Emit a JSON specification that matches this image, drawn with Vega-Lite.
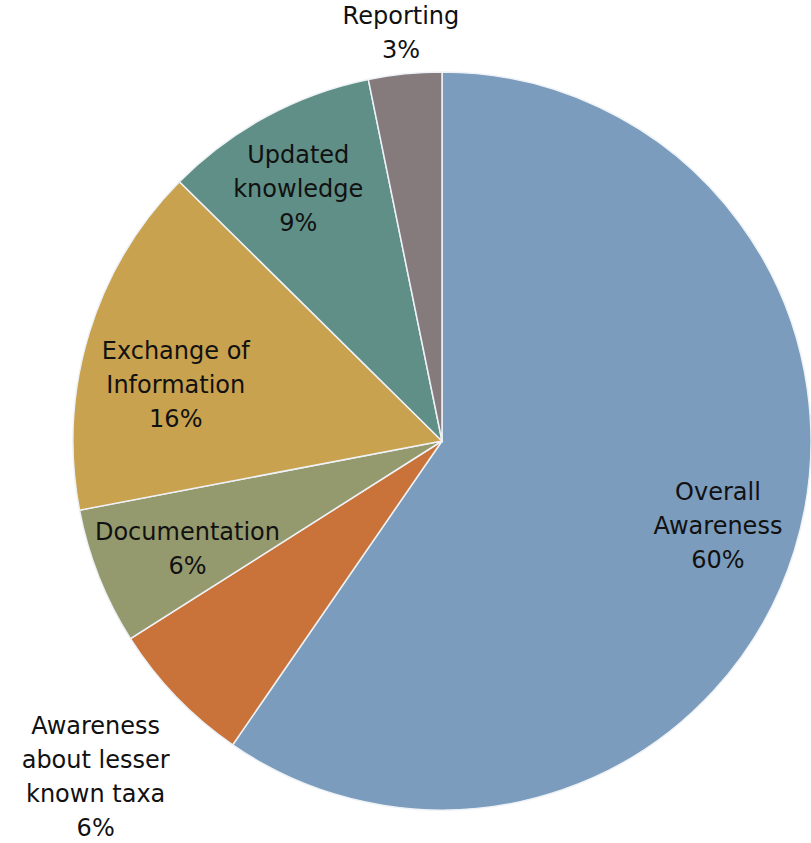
{
  "$schema": "https://vega.github.io/schema/vega-lite/v6.json",
  "width": 738,
  "height": 738,
  "autosize": {"type": "none"},
  "padding": {"left": 73, "top": 72, "right": 0, "bottom": 33},
  "background": "white",
  "config": {"view": {"stroke": null}, "text": {"font": "DejaVu Sans", "fontSize": 24, "lineBreak": "\n", "lineHeight": 34, "color": "#111111", "baseline": "middle"}},
  "data": {
    "values": [
      {"k": 1, "category": "Overall Awareness", "value": 59.6, "label": "Overall\nAwareness\n60%"},
      {"k": 2, "category": "Awareness about lesser known taxa", "value": 6.4, "label": "Awareness\nabout lesser\nknown taxa\n6%"},
      {"k": 3, "category": "Documentation", "value": 6.0, "label": "Documentation\n6%"},
      {"k": 4, "category": "Exchange of Information", "value": 15.4, "label": "Exchange of\nInformation\n16%"},
      {"k": 5, "category": "Updated knowledge", "value": 9.4, "label": "Updated\nknowledge\n9%"},
      {"k": 6, "category": "Reporting", "value": 3.2, "label": "Reporting\n3%"}
    ]
  },
  "encoding": {
    "theta": {"field": "value", "type": "quantitative", "stack": true},
    "order": {"field": "k", "type": "quantitative"}
  },
  "layer": [
    {
      "mark": {"type": "arc", "outerRadius": 369, "stroke": "#eef2f6", "strokeWidth": 1.5},
      "encoding": {
        "color": {
          "field": "category",
          "type": "nominal",
          "scale": {
            "domain": ["Overall Awareness", "Awareness about lesser known taxa", "Documentation", "Exchange of Information", "Updated knowledge", "Reporting"],
            "range": ["#7b9cbc", "#c9733a", "#959a6e", "#c8a24e", "#5f8f86", "#857b7d"]
          },
          "legend": null
        }
      }
    },
    {
      "mark": {"type": "text", "radius": 289, "dy": -34},
      "encoding": {"text": {"condition": {"test": "datum.k == 1", "field": "label"}, "value": ""}}
    },
    {
      "mark": {"type": "text", "radius": 485, "dy": -50, "dx": 3},
      "encoding": {"text": {"condition": {"test": "datum.k == 2", "field": "label"}, "value": ""}}
    },
    {
      "mark": {"type": "text", "radius": 277, "dy": -10, "dx": 3},
      "encoding": {"text": {"condition": {"test": "datum.k == 3", "field": "label"}, "value": ""}}
    },
    {
      "mark": {"type": "text", "radius": 272, "dy": -10, "dx": -6},
      "encoding": {"text": {"condition": {"test": "datum.k == 4", "field": "label"}, "value": ""}}
    },
    {
      "mark": {"type": "text", "radius": 285, "dy": -34, "dx": -8},
      "encoding": {"text": {"condition": {"test": "datum.k == 5", "field": "label"}, "value": ""}}
    },
    {
      "mark": {"type": "text", "radius": 409, "dy": -17},
      "encoding": {"text": {"condition": {"test": "datum.k == 6", "field": "label"}, "value": ""}}
    }
  ]
}
